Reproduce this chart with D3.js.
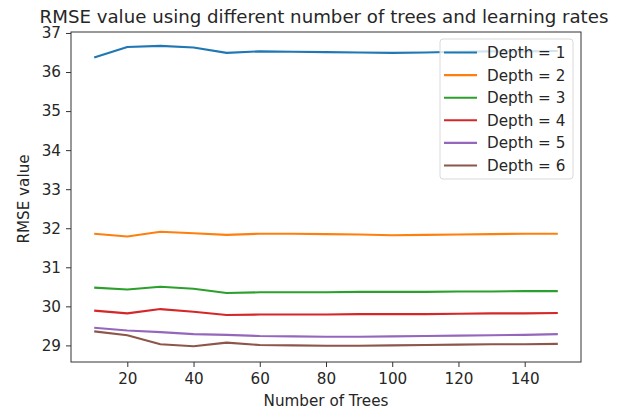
<!DOCTYPE html>
<html>
<head>
<meta charset="utf-8">
<script src="https://cdn.jsdelivr.net/npm/d3@7"></script>
<style>
  body { margin: 0; background: #fff; }
  text { font-family: "DejaVu Sans", sans-serif; fill: #262626; }
</style>
</head>
<body>
<div id="chart"></div>
<script>
// number of trees
const trees = [10, 20, 30, 40, 50, 60, 70, 80, 90, 100, 110, 120, 130, 140, 150];

// RMSE per depth
const depth1 = [36.37, 36.64, 36.67, 36.63, 36.49, 36.53, 36.52, 36.51, 36.50, 36.49, 36.50, 36.52, 36.53, 36.53, 36.54];
const depth2 = [31.86, 31.79, 31.91, 31.87, 31.83, 31.86, 31.86, 31.85, 31.84, 31.82, 31.83, 31.84, 31.85, 31.86, 31.86];
const depth3 = [30.48, 30.43, 30.50, 30.45, 30.34, 30.36, 30.36, 30.36, 30.37, 30.37, 30.37, 30.38, 30.38, 30.39, 30.39];
const depth4 = [29.89, 29.82, 29.93, 29.86, 29.78, 29.79, 29.79, 29.79, 29.80, 29.80, 29.80, 29.81, 29.82, 29.82, 29.83];
const depth5 = [29.45, 29.38, 29.34, 29.29, 29.27, 29.24, 29.23, 29.22, 29.22, 29.23, 29.24, 29.25, 29.26, 29.27, 29.29];
const depth6 = [29.36, 29.26, 29.03, 28.98, 29.07, 29.01, 29.00, 28.99, 28.99, 29.00, 29.01, 29.02, 29.03, 29.03, 29.04];

const seriesNames = ['Depth = 1', 'Depth = 2', 'Depth = 3', 'Depth = 4', 'Depth = 5', 'Depth = 6'];
const seriesValues = [depth1, depth2, depth3, depth4, depth5, depth6];
const colors = ['#1f77b4', '#ff7f0e', '#2ca02c', '#d62728', '#9467bd', '#8c564b'];

const xTicks = [20, 40, 60, 80, 100, 120, 140];
const yTicks = [29, 30, 31, 32, 33, 34, 35, 36, 37];

const W = 621, H = 411;
const margin = { top: 32, left: 71, right: 40, bottom: 49 };
const width = W - margin.left - margin.right;
const height = H - margin.top - margin.bottom;
const fs = 15.2;

const svg = d3.select('#chart')
  .append('svg')
  .attr('width', W)
  .attr('height', H);

const g = svg.append('g')
  .attr('transform', `translate(${margin.left},${margin.top})`);

const xScale = d3.scaleLinear().domain([3, 157]).range([0, width]);
const yScale = d3.scaleLinear().domain([28.575, 37.025]).range([height, 0]);

// axes
const xAxis = d3.axisBottom(xScale).tickValues(xTicks).tickSize(5).tickPadding(6.5);
const yAxis = d3.axisLeft(yScale).tickValues(yTicks).tickSize(5).tickPadding(5);

const gx = g.append('g')
  .attr('transform', `translate(0,${height})`)
  .call(xAxis);
const gy = g.append('g').call(yAxis);

[gx, gy].forEach(a => {
  a.select('.domain').remove();
  a.selectAll('line').attr('stroke', '#333').attr('stroke-width', 1);
  a.selectAll('text').style('font-size', fs + 'px').style('font-family', '"DejaVu Sans", sans-serif').attr('fill', '#262626');
});

// lines
const line = d3.line()
  .x((d, i) => xScale(trees[i]))
  .y(d => yScale(d));

seriesValues.forEach((vals, i) => {
  g.append('path')
    .datum(vals)
    .attr('fill', 'none')
    .attr('stroke', colors[i])
    .attr('stroke-width', 2.1)
    .attr('stroke-linejoin', 'round')
    .attr('d', line);
});

// frame
g.append('rect')
  .attr('width', width)
  .attr('height', height)
  .attr('fill', 'none')
  .attr('stroke', '#333')
  .attr('stroke-width', 1);

// legend
const legend = g.append('g')
  .attr('transform', `translate(${440 - margin.left},${39 - margin.top})`);

legend.append('rect')
  .attr('width', 133)
  .attr('height', 140)
  .attr('rx', 3)
  .attr('fill', 'rgba(255,255,255,0.8)')
  .attr('stroke', '#d9d9d9');

seriesNames.forEach((name, i) => {
  const yy = 13.5 + i * 22.6;
  legend.append('line')
    .attr('x1', 4).attr('x2', 37)
    .attr('y1', yy).attr('y2', yy)
    .attr('stroke', colors[i])
    .attr('stroke-width', 2.1);
  legend.append('text')
    .attr('x', 47)
    .attr('y', yy + 5.5)
    .style('font-size', fs + 'px')
    .text(name);
});

// labels
svg.append('text')
  .attr('x', margin.left + width / 2 - 2)
  .attr('y', 23)
  .style('text-anchor', 'middle')
  .style('font-size', '18.2px')
  .text('RMSE value using different number of trees and learning rates');

svg.append('text')
  .attr('x', margin.left + width / 2)
  .attr('y', 406)
  .style('text-anchor', 'middle')
  .style('font-size', fs + 'px')
  .text('Number of Trees');

svg.append('text')
  .attr('transform', `translate(28.5,${margin.top + height / 2 + 2}) rotate(-90)`)
  .style('text-anchor', 'middle')
  .style('font-size', fs + 'px')
  .text('RMSE value');
</script>
</body>
</html>
